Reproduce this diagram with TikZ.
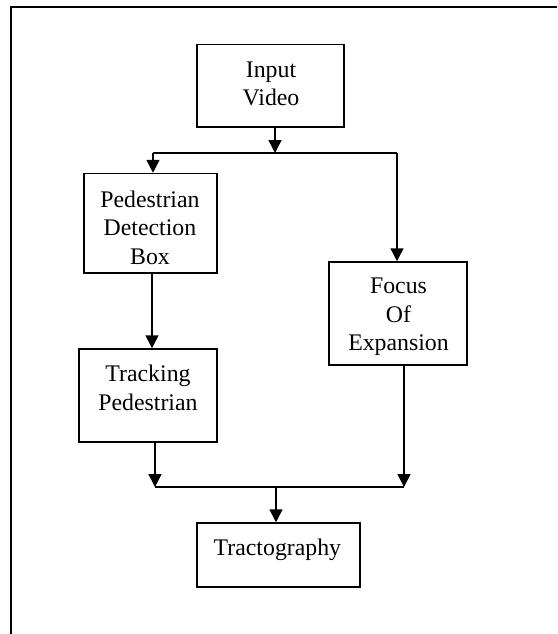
\documentclass[tikz,border=0pt]{standalone}
\usepackage{fontspec}
\setmainfont{Liberation Serif}
\usetikzlibrary{arrows.meta}
\begin{document}
\begin{tikzpicture}[x=1pt,y=-1pt,
  box/.style={draw,line width=1.5pt,inner sep=0pt},
  txt/.style={align=center,inner sep=0pt,font=\fontsize{23.8}{28.6}\selectfont},
  conn/.style={line width=1.5pt},
  arr/.style={line width=1.5pt,-{Triangle[length=13pt,width=13pt]}}]
\useasboundingbox (0,0) rectangle (557,634);
\fill[white] (0,0) rectangle (557,634);
% outer frame
\draw[line width=2pt] (11,634) -- (11,7.3) -- (557,7.3);
% boxes
\node[box,minimum width=147pt,minimum height=82.5pt] (in) at (270.5,85.75) {};
\node[box,minimum width=133pt,minimum height=99.5pt] (ped) at (150.5,223.25) {};
\node[box,minimum width=138pt,minimum height=103pt] (foe) at (398,313.5) {};
\node[box,minimum width=138pt,minimum height=93pt] (trk) at (148,395.5) {};
\node[box,minimum width=163pt,minimum height=64pt] (tra) at (278.5,555) {};
% texts
\node[txt] (intxt) at (271,84) {Input\\Video};
\node[txt] (pedtxt) at (150,227.5) {Pedestrian\\Detection\\Box};
\node[txt] (foetxt) at (398.5,317) {Focus\\Of\\Expansion};
\node[txt] (trktxt) at (148,388) {Tracking\\Pedestrian};
\node[txt] (tratxt) at (277.4,550) {Tractography};
% junction coordinates
\coordinate (j1) at (275,153);
\coordinate (jl) at (153,153);
\coordinate (jr) at (397,153);
\coordinate (pdown) at (152,273);
\coordinate (bl) at (155,487);
\coordinate (br) at (404,487);
\coordinate (bm) at (276,487);
% connectors
\draw[arr] (in.south -| j1) -- (j1);
\draw[conn] (jl) -- (jr);
\draw[arr] (jl) -- (ped.north -| jl);
\draw[arr] (jr) -- (foe.north -| jr);
\draw[arr] (pdown) -- (trk.north -| pdown);
\draw[arr] (trk.south -| bl) -- (bl);
\draw[arr] (foe.south -| br) -- (br);
\draw[conn] (bl) -- (br);
\draw[arr] (bm) -- (tra.north -| bm);
\end{tikzpicture}
\end{document}
